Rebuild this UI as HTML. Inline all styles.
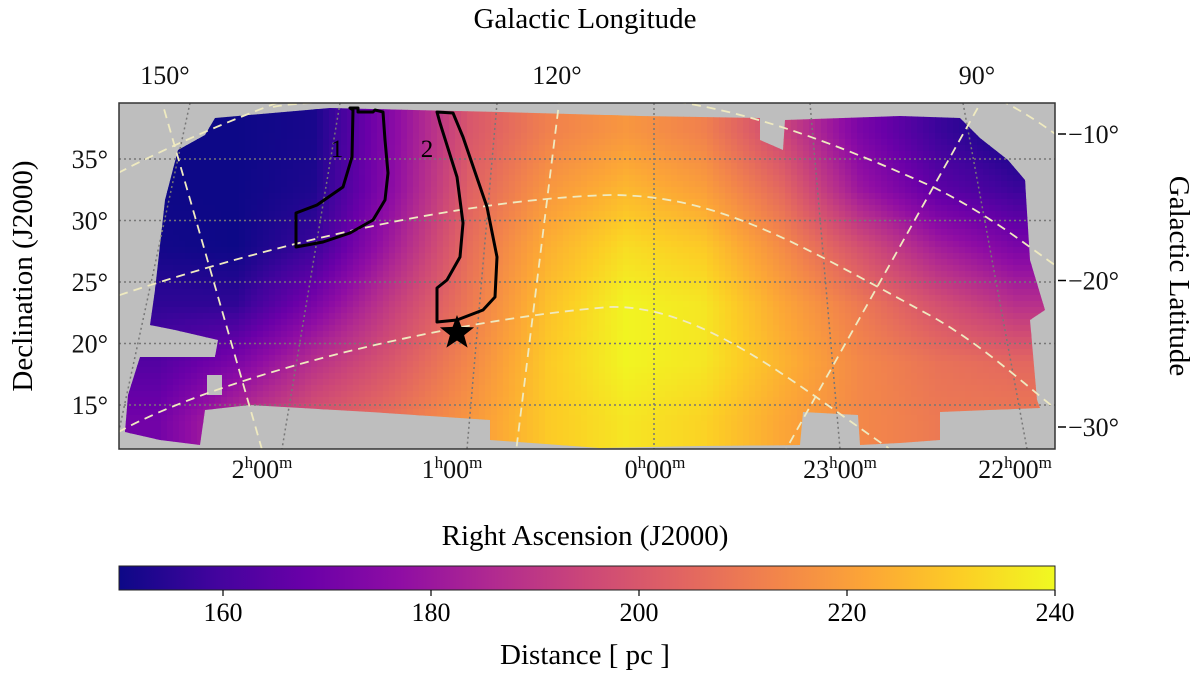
<!DOCTYPE html>
<html><head><meta charset="utf-8"><style>
body{margin:0;background:#fff;}
svg{display:block;font-family:"Liberation Serif",serif;}
</style></head><body>
<svg id="chart" width="1200" height="678" viewBox="0 0 1200 678">
<defs>
<clipPath id="frameClip"><rect x="119" y="103" width="936" height="346"/></clipPath>
<clipPath id="footClip"><polygon points="215,118 330,108 500,112 640,116 760,118 760,140 783,150 785,120 900,116 960,118 980,138 1008,160 1025,180 1030,260 1045,310 1030,320 1037,400 1040,408 940,412 940,440 900,443 860,445 858,415 803,412 800,445 700,446 600,448 490,440 490,420 370,412 250,405 205,410 200,445 160,440 125,432 128,395 140,357 215,357 218,340 175,330 150,325 155,290 165,200 178,150 205,135"/></clipPath>
<linearGradient id="plasma" x1="0" x2="1" y1="0" y2="0">
<stop offset="0" stop-color="#0d0887"/><stop offset="0.1" stop-color="#41049d"/><stop offset="0.2" stop-color="#6a00a8"/><stop offset="0.3" stop-color="#8f0da4"/><stop offset="0.4" stop-color="#b12a90"/><stop offset="0.5" stop-color="#cc4778"/><stop offset="0.6" stop-color="#e16462"/><stop offset="0.7" stop-color="#f2844b"/><stop offset="0.8" stop-color="#fca636"/><stop offset="0.9" stop-color="#fcce25"/><stop offset="1" stop-color="#f0f921"/>
</linearGradient>
</defs>
<rect x="119" y="103" width="936" height="346" fill="#bebebe"/>
<g id="heat" clip-path="url(#footClip)"></g>
<rect x="207" y="375" width="15" height="20" fill="#bebebe"/>
<g id="grid" clip-path="url(#frameClip)"></g>
<g fill="none" stroke="#000" stroke-width="3" stroke-linejoin="round">
<polygon points="350,108 358,108 358,112 373,112 375,110 383,112 385,140 388,173 385,200 373,220 350,233 323,242 296,247 296,213 317,205 343,187 352,157 353,110"/>
<polygon points="437,112 453,113 463,137 487,207 497,257 495,297 483,310 457,320 437,322 437,288 447,280 460,257 463,223 457,177 440,123"/>
</g>
<text x="337" y="157" font-size="25" text-anchor="middle">1</text>
<text x="427" y="157" font-size="25" text-anchor="middle">2</text>
<polygon id="star" fill="#000"/>
<rect x="119" y="103" width="936" height="346" fill="none" stroke="#333" stroke-width="1.5"/>
<g id="axes" font-size="26" fill="#111"></g>
<text x="585" y="28" font-size="29" text-anchor="middle">Galactic Longitude</text>
<text x="585" y="545" font-size="29" text-anchor="middle">Right Ascension (J2000)</text>
<text transform="translate(32,276) rotate(-90)" font-size="29" text-anchor="middle">Declination (J2000)</text>
<text transform="translate(1170,276) rotate(90)" font-size="29" text-anchor="middle">Galactic Latitude</text>
<rect x="119" y="566" width="936" height="24" fill="url(#plasma)" stroke="#222" stroke-width="1"/>
<g id="cbar" font-size="26"></g>
<text x="585" y="664" font-size="29" text-anchor="middle">Distance [ pc ]</text>
</svg>
<script>
const distRows = [
 [150,150,152,175,200,212,218,212,195,172,158,150],
 [150,150,153,176,203,218,226,220,205,180,165,158],
 [151,150,158,182,207,224,234,230,215,198,182,172],
 [156,156,172,192,210,228,239,236,222,210,198,188],
 [163,172,188,200,214,230,239,236,225,214,208,205],
 [170,188,200,208,218,230,236,232,222,214,210,210]
];
const decTicks = [35,30,25,20,15];
const decLabels = ["35°","30°","25°","20°","15°"];
const raLabels = ["2","1","0","23","22"];
const latTicks = [-10,-20,-30];
const lonLabels = ["150°","120°","90°"];
const cbarTicks = [160,180,200,220,240];
const vmin = 150, vmax = 240;

const NS="http://www.w3.org/2000/svg";
function mk(tag,attrs,parent){const e=document.createElementNS(NS,tag);for(const k in attrs)e.setAttribute(k,attrs[k]);parent.appendChild(e);return e;}
const X0=119,X1=1055,Y0=103,Y1=449;
const decY = d => 159 + (35-d)*(405-159)/20;
const latY = b => 134 + (-10-b)*(427-134)/20;
const cbX = v => X0 + (v-vmin)/(vmax-vmin)*(X1-X0);
const stops=[[13,8,135],[65,4,157],[106,0,168],[143,13,164],[177,42,144],[204,71,120],[225,100,98],[242,132,75],[252,166,54],[252,206,37],[240,249,33]];
function cmap(v){let t=Math.max(0,Math.min(1,(v-vmin)/(vmax-vmin)))*10;let i=Math.min(9,Math.floor(t)),f=t-i;const a=stops[i],b=stops[i+1];return `rgb(${a.map((c,k)=>Math.round(c+(b[k]-c)*f)).join(',')})`;}
const heat=document.getElementById('heat');
const nr=distRows.length,nc=distRows[0].length;
const cw=(X1-X0)/nc,ch=(Y1-Y0)/nr,step=6;
function val(x,y){let fx=(x-X0)/cw-0.5,fy=(y-Y0)/ch-0.5;fx=Math.max(0,Math.min(nc-1.0001,fx));fy=Math.max(0,Math.min(nr-1.0001,fy));const i=Math.floor(fx),j=Math.floor(fy),u=fx-i,w=fy-j;
return distRows[j][i]*(1-u)*(1-w)+distRows[j][i+1]*u*(1-w)+distRows[j+1][i]*(1-u)*w+distRows[j+1][i+1]*u*w;}
for(let y=Y0;y<Y1;y+=step){for(let x=X0;x<X1;x+=step){
 const r=mk('rect',{x:x,y:y,width:step+0.6,height:step+0.6,fill:cmap(val(x+step/2,y+step/2))},heat);
 
 
}}
const g=document.getElementById('grid');
decTicks.forEach(d=>{const l=mk('line',{x1:X0,x2:X1,y1:decY(d),y2:decY(d),stroke:'#777','stroke-width':1.5,'stroke-dasharray':'2,3'},g);
 });
[[190,103,115,449],[340,103,282,449],[497,103,467,449],[654,103,654,449],[810,103,840,449],[963,103,1027,449]].forEach(p=>{
 const l=mk('line',{x1:p[0],y1:p[1],x2:p[2],y2:p[3],stroke:'#777','stroke-width':1.5,'stroke-dasharray':'2,3'},g);
 });
const gal=["M105,180 C160,150 230,120 290,98","M105,300 C243,253 443,200 610,195 C720,195 800,245 933,317 C990,350 1030,390 1070,420","M105,440 C200,380 443,320 610,307 C700,305 790,380 887,447 L900,460","M273,107 C300,100 500,95 610,95 C700,100 780,118 933,187 C1000,220 1040,257 1070,275","M1000,100 C1020,110 1040,122 1070,145","M160,95 L265,460","M560,95 L515,460","M985,95 L780,460"];
gal.forEach(d=>{const p=mk('path',{d:d,fill:'none',stroke:'#efeac0','stroke-width':1.8,'stroke-dasharray':'9,6'},g);
 });
(function(){const cx=457,cy=333,R=18,r=7.5;let pts=[];for(let i=0;i<10;i++){const a=-Math.PI/2+i*Math.PI/5,rr=i%2?r:R;pts.push((cx+rr*Math.cos(a)).toFixed(1)+','+(cy+rr*Math.sin(a)).toFixed(1));}document.getElementById('star').setAttribute('points',pts.join(' '));})();
const ax=document.getElementById('axes');
decTicks.forEach((d,i)=>{const t=mk('text',{x:108,y:decY(d)+9,'text-anchor':'end'},ax);t.textContent=decLabels[i];
 });
const raX=[262,452,655,840,1015];
raLabels.forEach((h,i)=>{const t=mk('text',{x:raX[i],y:478,'text-anchor':'middle'},ax);
 t.innerHTML=h+'<tspan dy="-10" font-size="17">h</tspan><tspan dy="10">00</tspan><tspan dy="-10" font-size="17">m</tspan>';
 });
latTicks.forEach(b=>{const y=latY(b);mk('line',{x1:1058,x2:1066,y1:y,y2:y,stroke:'#000','stroke-width':1.5},ax);
 const t=mk('text',{x:1068,y:y+9},ax);t.textContent='\u2212'+Math.abs(b)+'°';
 });
const lonX=[165,557,977];
lonLabels.forEach((s,i)=>{const t=mk('text',{x:lonX[i],y:84,'text-anchor':'middle'},ax);t.textContent=s;
 });
const cb=document.getElementById('cbar');
cbarTicks.forEach(v=>{const x=cbX(v);mk('line',{x1:x,x2:x,y1:590,y2:596,stroke:'#000','stroke-width':1.2},cb);
 const t=mk('text',{x:x,y:621,'text-anchor':'middle'},cb);t.textContent=v;
 });
</script>
</body></html>
